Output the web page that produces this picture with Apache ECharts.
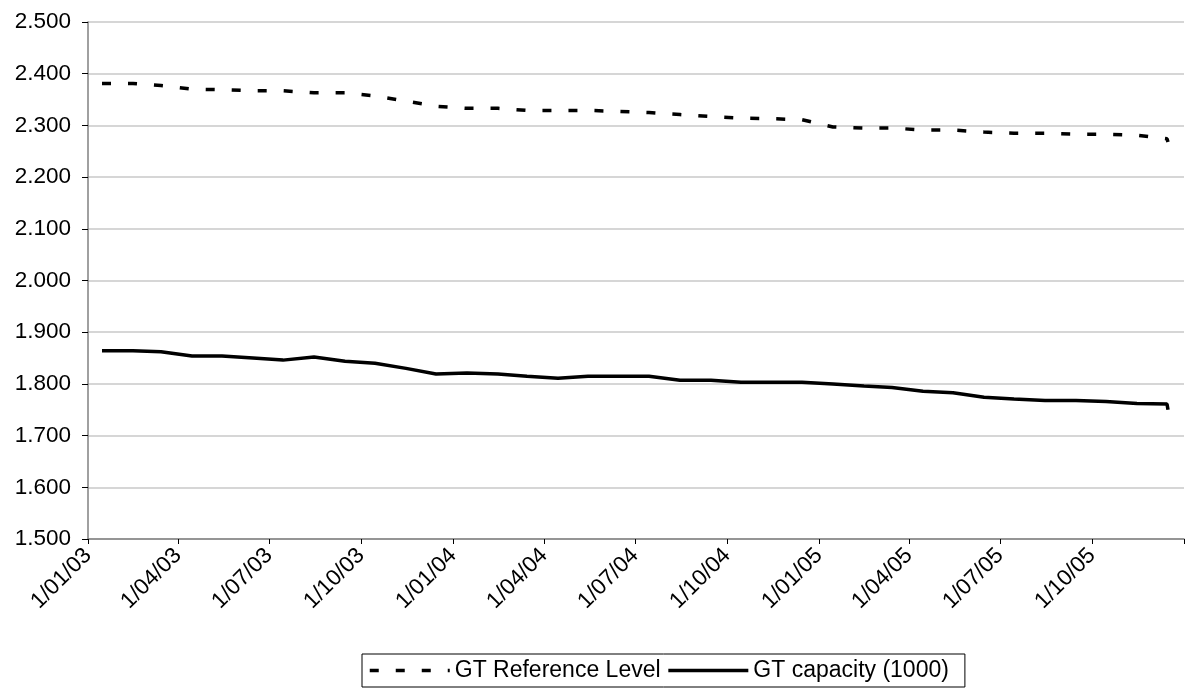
<!DOCTYPE html>
<html>
<head>
<meta charset="utf-8">
<script src="https://cdn.jsdelivr.net/npm/echarts@6/dist/echarts.min.js"></script>
<style>
  html, body { margin: 0; padding: 0; background: #fff; }
  #chart { width: 1194px; height: 695px; }
</style>
</head>
<body>
<div id="chart"></div>
<script>
// Monthly observation dates (mid-month), plus the closing reading
const dates = [
  '2003-01-15','2003-02-15','2003-03-15','2003-04-15','2003-05-15','2003-06-15',
  '2003-07-15','2003-08-15','2003-09-15','2003-10-15','2003-11-15','2003-12-15',
  '2004-01-15','2004-02-15','2004-03-15','2004-04-15','2004-05-15','2004-06-15',
  '2004-07-15','2004-08-15','2004-09-15','2004-10-15','2004-11-15','2004-12-15',
  '2005-01-15','2005-02-15','2005-03-15','2005-04-15','2005-05-15','2005-06-15',
  '2005-07-15','2005-08-15','2005-09-15','2005-10-15','2005-11-15','2005-12-15',
  '2005-12-16'
];

const referenceLevel = [
  2.381, 2.381, 2.377, 2.370, 2.369, 2.367, 2.367, 2.363, 2.363, 2.357, 2.347, 2.337,
  2.333, 2.333, 2.329, 2.329, 2.329, 2.327, 2.325, 2.321, 2.317, 2.314, 2.313, 2.311,
  2.297, 2.295, 2.295, 2.291, 2.291, 2.287, 2.285, 2.285, 2.283, 2.283, 2.281, 2.274,
  2.268
];

const capacity = [
  1.864, 1.864, 1.862, 1.854, 1.854, 1.850, 1.846, 1.852, 1.844, 1.840, 1.830, 1.819,
  1.821, 1.819, 1.815, 1.811, 1.815, 1.815, 1.815, 1.807, 1.807, 1.803, 1.803, 1.803,
  1.800, 1.796, 1.793, 1.786, 1.783, 1.774, 1.771, 1.768, 1.768, 1.766, 1.762, 1.761,
  1.750
];

// Quarterly ticks on the date axis and their labels
const tickDates = [
  '2003-01-01','2003-04-01','2003-07-01','2003-10-01',
  '2004-01-01','2004-04-01','2004-07-01','2004-10-01',
  '2005-01-01','2005-04-01','2005-07-01','2005-10-01','2006-01-01'
];
const tickLabels = [
  '1/01/03','1/04/03','1/07/03','1/10/03',
  '1/01/04','1/04/04','1/07/04','1/10/04',
  '1/01/05','1/04/05','1/07/05','1/10/05',''
];

const seriesNames = ['GT Reference Level', 'GT capacity (1000)'];

// The date axis is measured in days from the first tick date
function dayNumber(s) {
  const p = s.split('-').map(Number);
  const o = tickDates[0].split('-').map(Number);
  return Math.round((Date.UTC(p[0], p[1] - 1, p[2]) - Date.UTC(o[0], o[1] - 1, o[2])) / 86400000);
}
const tickDays = tickDates.map(dayNumber);
const labelDays = tickDays.filter((d, i) => tickLabels[i] !== '');

const FONT = '"Liberation Sans", Arial, sans-serif';
const FS = 22.5;

const chart = echarts.init(document.getElementById('chart'), null, { renderer: 'canvas' });

chart.setOption({
  animation: false,
  backgroundColor: '#ffffff',
  grid: {
    left: 88, right: 10, top: 22, bottom: 156,
    containLabel: false, outerBoundsMode: 'none'
  },
  xAxis: {
    type: 'value',
    min: tickDays[0],
    max: tickDays[tickDays.length - 1],
    axisLine: { show: true, lineStyle: { color: '#808080', width: 1.5 } },
    axisTick: {
      show: true, inside: false, length: 5,
      customValues: tickDays,
      lineStyle: { color: '#000000', width: 1 }
    },
    axisLabel: {
      show: true,
      customValues: labelDays,
      rotate: 45,
      margin: 13,
      color: '#000000',
      fontFamily: FONT,
      fontSize: FS,
      showMinLabel: true,
      formatter: function (v) {
        const i = tickDays.indexOf(v);
        return i >= 0 ? tickLabels[i] : '';
      }
    },
    splitLine: { show: false }
  },
  yAxis: {
    type: 'value',
    min: 1.5,
    max: 2.5,
    interval: 0.1,
    axisLine: { show: true, lineStyle: { color: '#808080', width: 1.5 } },
    axisTick: { show: true, inside: false, length: 6, lineStyle: { color: '#000000', width: 1 } },
    axisLabel: {
      color: '#000000',
      fontFamily: FONT,
      fontSize: FS,
      margin: 17,
      formatter: function (v) { return v.toFixed(3); }
    },
    splitLine: { show: true, lineStyle: { color: '#c8c8c8', width: 1.5 } }
  },
  legend: {
    show: true,
    left: 362,
    top: 654,
    orient: 'horizontal',
    borderColor: '#000000',
    borderWidth: 1,
    borderRadius: 0,
    padding: [5, 16, 5, 6],
    itemWidth: 80,
    itemHeight: 14,
    itemGap: 6,
    itemStyle: { opacity: 0 },
    lineStyle: { width: 3.5 },
    textStyle: { color: '#000000', fontFamily: FONT, fontSize: 23 },
    data: seriesNames
  },
  series: [
    {
      name: seriesNames[0],
      type: 'line',
      symbol: 'none',
      data: dates.map((d, i) => [dayNumber(d), referenceLevel[i]]),
      lineStyle: { color: '#000000', width: 3.5, type: [9, 17], cap: 'butt' },
      itemStyle: { color: '#000000' }
    },
    {
      name: seriesNames[1],
      type: 'line',
      symbol: 'none',
      data: dates.map((d, i) => [dayNumber(d), capacity[i]]),
      lineStyle: { color: '#000000', width: 3.5, type: 'solid' },
      itemStyle: { color: '#000000' }
    }
  ]
});
</script>
</body>
</html>
